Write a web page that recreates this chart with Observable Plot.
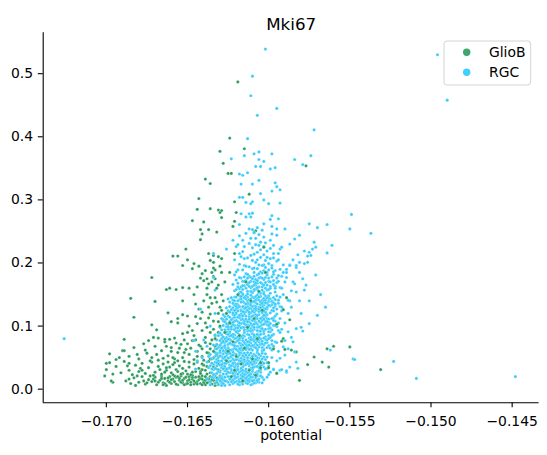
<!DOCTYPE html>
<html>
<head>
<meta charset="utf-8">
<script src="https://cdn.jsdelivr.net/npm/d3@7"></script>
<script src="https://cdn.jsdelivr.net/npm/@observablehq/plot@0.6"></script>
<style>
body{margin:0;background:#fff;}
</style>
</head>
<body>
<div id="chart"></div>
<script>
const title = "Mki67";
const xLabel = "potential";
const categories = ["GlioB", "RGC"];
const xTicks = [-0.170, -0.165, -0.160, -0.155, -0.150, -0.145];
const yTicks = [0.0, 0.1, 0.2, 0.3, 0.4, 0.5];

// GlioB: dense bottom band
const glioBDense = [
[-.1688,.013],[-.1685,.009],[-.1683,.018],[-.1680,.011],[-.1678,.020],[-.1676,.008],[-.1674,.015],[-.1672,.012],[-.1670,.019],[-.1669,.007],[-.1667,.014],[-.1666,.021],[-.1665,.010],[-.1664,.017],[-.1663,.006],[-.1662,.013],[-.1661,.020],[-.1660,.009],[-.1659,.016],[-.1658,.012],[-.1657,.019],[-.1656,.007],[-.1655,.014],[-.1654,.021],[-.1653,.010],[-.1652,.017],[-.1651,.008],[-.1650,.013],[-.1649,.020],[-.1648,.011],[-.1647,.016],[-.1646,.008],[-.1645,.019],[-.1644,.012],[-.1643,.015],[-.1642,.009],[-.1641,.021],[-.1640,.013],[-.1639,.007],[-.1638,.017],[-.1637,.011],[-.1636,.020],[-.1635,.008],[-.1634,.014],[-.1633,.010],[-.1632,.018],[-.1631,.007],[-.1629,.012],
[-.1682,.006],[-.1677,.013],[-.1673,.021],[-.1668,.011],[-.1664,.009],[-.1660,.015],[-.1657,.008],[-.1654,.011],[-.1651,.019],[-.1648,.007],[-.1645,.010],[-.1642,.017],[-.1639,.014],[-.1636,.012],[-.1633,.006],[-.1630,.015],[-.1662,.018],[-.1658,.021],[-.1655,.017],[-.1650,.009],[-.1646,.013],[-.1643,.020],[-.1640,.010],[-.1637,.016],[-.1634,.019],[-.1671,.016],[-.1666,.017],[-.1653,.014],[-.1647,.019],[-.1641,.007],
[-.1686,.016],[-.1681,.021],[-.1675,.010],[-.1670,.013],[-.1665,.007],[-.1661,.011],[-.1656,.020],[-.1652,.007],[-.1649,.015],[-.1644,.008],[-.1641,.016],[-.1638,.010],[-.1635,.015],[-.1632,.011],[-.1630,.021],[-.1659,.023],[-.1653,.025],[-.1647,.022],[-.1642,.028],[-.1639,.020],
[-.1700,.031],[-.1698,.042],[-.1694,.036],[-.1691,.026],[-.1689,.044],[-.1686,.030],[-.1684,.023],[-.1682,.038],[-.1680,.028],[-.1678,.041],[-.1676,.025],[-.1674,.034],[-.1672,.043],[-.1670,.027],[-.1668,.036],[-.1666,.024],[-.1665,.040],[-.1663,.030],[-.1661,.035],[-.1660,.026],[-.1658,.042],[-.1657,.031],[-.1655,.037],[-.1654,.024],[-.1652,.044],[-.1651,.029],[-.1649,.035],[-.1648,.023],[-.1646,.040],[-.1645,.028],[-.1643,.033],[-.1642,.025],[-.1640,.038],[-.1639,.030],[-.1637,.044],[-.1636,.026],[-.1634,.035],[-.1633,.023],[-.1631,.040],[-.1630,.029],[-.1627,.034],
[-.1696,.024],[-.1687,.037],[-.1679,.033],[-.1671,.022],[-.1664,.027],[-.1659,.039],[-.1653,.033],[-.1647,.027],[-.1644,.043],[-.1641,.031],[-.1638,.024],[-.1635,.041],[-.1632,.032],[-.1650,.024],[-.1656,.028],[-.1662,.043],[-.1667,.031],
[-.1698,.056],[-.1694,.047],[-.1690,.061],[-.1686,.052],[-.1683,.066],[-.1680,.048],[-.1677,.072],[-.1675,.057],[-.1672,.050],[-.1670,.068],[-.1668,.046],[-.1666,.061],[-.1664,.075],[-.1662,.053],[-.1660,.066],[-.1658,.048],[-.1656,.058],[-.1654,.071],[-.1653,.050],[-.1651,.063],[-.1649,.055],[-.1647,.077],[-.1646,.047],[-.1644,.060],[-.1642,.068],[-.1641,.052],[-.1639,.074],[-.1637,.057],[-.1636,.064],[-.1634,.049],[-.1632,.070],[-.1630,.058],[-.1628,.076],[-.1626,.062],[-.1623,.054],
[-.1676,.062],[-.1665,.049],[-.1657,.073],[-.1648,.065],[-.1640,.046],[-.1635,.078],[-.1631,.051],[-.1652,.078],
[-.1660,.060],[-.1663,.068],[-.1655,.065],[-.1650,.072],[-.1645,.078],[-.1669,.055],[-.1673,.045],[-.1681,.055],[-.1686,.041],[-.1692,.050],[-.1659,.050],[-.1652,.058],[-.1678,.030],[-.1663,.034],[-.1656,.045],[-.1649,.043],
[-.1700,.041],[-.1696,.011],[-.1701,.021],[-.1697,.013]
];

// GlioB: sparse upper scatter and outliers
const glioBScatter = [
[-.1619,.487],[-.1624,.398],[-.1615,.381],[-.1630,.377],[-.1628,.358],[-.1625,.342],[-.1623,.342],[-.1639,.333],[-.1636,.326],[-.1577,.354],[-.1612,.309],[-.1621,.297],[-.1643,.302],[-.1644,.285],[-.1636,.286],[-.1631,.284],[-.1629,.283],[-.1630,.280],[-.1620,.280],[-.1629,.272],[-.1647,.267],[-.1640,.265],[-.1621,.266],[-.1622,.258],
[-.1642,.253],[-.1641,.246],[-.1637,.253],[-.1642,.237],[-.1632,.249],[-.1609,.248],[-.1608,.251],[-.1651,.222],[-.1659,.211],[-.1656,.211],[-.1650,.205],[-.1653,.196],[-.1647,.191],[-.1646,.199],[-.1636,.204],[-.1634,.201],[-.1639,.188],[-.1635,.185],[-.1633,.189],[-.1631,.210],[-.1629,.207],[-.1637,.215],[-.1634,.212],
[-.1672,.177],[-.1663,.158],[-.1661,.160],[-.1657,.158],[-.1653,.161],[-.1649,.160],[-.1644,.162],[-.1642,.176],[-.1640,.172],[-.1638,.175],[-.1637,.167],[-.1635,.170],[-.1634,.179],
[-.1685,.144],[-.1670,.139],[-.1662,.121],[-.1660,.107],[-.1656,.105],[-.1656,.112],[-.1653,.118],[-.1650,.116],[-.1645,.115],[-.1643,.127],[-.1642,.112],[-.1637,.130],[-.1636,.119],[-.1635,.136],[-.1683,.114],[-.1672,.102],
[-.1689,.079],[-.1689,.061],[-.1674,.077],[-.1671,.082],[-.1668,.081],[-.1664,.079],[-.1661,.079],[-.1658,.081],[-.1653,.088],[-.1650,.090],[-.1647,.093],[-.1644,.104],[-.1641,.093],[-.1638,.098],[-.1636,.090],[-.1669,.094],
[-.1640,.140],[-.1638,.150],[-.1633,.145],[-.1645,.135],[-.1641,.122],[-.1634,.108],[-.1639,.082],[-.1643,.070],[-.1633,.068],[-.1631,.090],[-.1646,.085],[-.1649,.100],[-.1653,.140],[-.1646,.150],[-.1630,.130],[-.1632,.055],
[-.1644,.052],[-.1641,.064],[-.1638,.058],[-.1636,.072],[-.1633,.085],[-.1639,.105],[-.1637,.113],[-.1634,.095],[-.1631,.107],[-.1632,.138],[-.1636,.145],[-.1631,.165],[-.1633,.175],[-.1629,.185],[-.1634,.192],[-.1641,.183],[-.1643,.195],[-.1638,.160],[-.1629,.125],[-.1628,.110],[-.1630,.070],[-.1636,.048],[-.1641,.040],[-.1638,.036],
[-.1560,.068],[-.1564,.064],[-.1572,.051],[-.1576,.039],[-.1563,.035],[-.1567,.043],[-.1550,.067],[-.1531,.031],[-.1581,.014],[-.1583,.059],[-.1590,.063],[-.1591,.080]
];

// GlioB points lying inside the RGC cloud
const glioBCore = [
[-.1628,.140],[-.1626,.120],[-.1624,.105],[-.1627,.090],[-.1622,.075],[-.1625,.060],[-.1620,.052],[-.1617,.040],[-.1612,.030],[-.1608,.022],[-.1605,.034],[-.1610,.048],[-.1615,.065],[-.1618,.085],[-.1613,.098],[-.1609,.112],[-.1604,.125],[-.1611,.140],[-.1606,.155],[-.1614,.170],[-.1602,.185],[-.1600,.042],[-.1597,.064],[-.1595,.025],[-.1630,.100],[-.1633,.080],[-.1631,.120],[-.1629,.150],[-.1632,.160],[-.1627,.170],[-.1624,.185],[-.1630,.195],[-.1591,.126],[-.1595,.103],[-.1592,.076],[-.1586,.062],[-.1600,.034],[-.1605,.042],[-.1621,.030],[-.1626,.045],[-.1634,.060],[-.1623,.020],[-.1616,.013],[-.1619,.150],[-.1607,.080],[-.1587,.110],[-.1589,.145],[-.1603,.225],[-.1621,.215]
];

// RGC: dense core
const rgcCore = [
[-.1636,.012],[-.1633,.021],[-.1631,.008],[-.1630,.027],[-.1628,.015],[-.1627,.006],[-.1626,.024],[-.1625,.011],[-.1624,.019],[-.1623,.028],[-.1622,.009],[-.1621,.017],[-.1620,.025],[-.1619,.013],[-.1618,.007],[-.1617,.022],[-.1616,.016],[-.1615,.029],[-.1614,.010],[-.1613,.020],[-.1612,.026],[-.1611,.014],[-.1610,.008],[-.1609,.023],[-.1608,.018],[-.1606,.011],[-.1605,.027],[-.1603,.015],
[-.1635,.026],[-.1632,.014],[-.1629,.020],[-.1627,.029],[-.1624,.007],[-.1622,.022],[-.1620,.012],[-.1618,.027],[-.1616,.008],[-.1614,.024],[-.1612,.016],[-.1610,.028],[-.1608,.010],[-.1607,.021],[-.1604,.019],
[-.1634,.018],[-.1631,.016],[-.1629,.010],[-.1626,.013],[-.1623,.016],[-.1621,.027],[-.1619,.020],[-.1617,.011],[-.1615,.019],[-.1613,.009],[-.1611,.024],[-.1609,.014],[-.1607,.028],[-.1628,.024],[-.1625,.020],[-.1620,.018],[-.1616,.025],[-.1612,.012],[-.1633,.009],[-.1606,.016],
[-.1634,.023],[-.1630,.013],[-.1627,.019],[-.1624,.026],[-.1621,.011],[-.1618,.016],[-.1615,.023],[-.1613,.014],[-.1610,.019],[-.1607,.012],[-.1629,.006],[-.1622,.014],[-.1617,.029],[-.1611,.007],[-.1626,.029],[-.1619,.024],[-.1614,.017],[-.1608,.026],
[-.1638,.016],[-.1636,.007],[-.1632,.025],[-.1630,.019],[-.1628,.009],[-.1625,.027],[-.1623,.012],[-.1621,.021],[-.1619,.008],[-.1617,.017],[-.1615,.013],[-.1613,.026],[-.1611,.019],[-.1609,.010],[-.1607,.024],[-.1605,.021],[-.1604,.010],[-.1631,.028],[-.1627,.013],[-.1624,.016],[-.1620,.029],[-.1616,.020],[-.1612,.022],[-.1610,.013],[-.1606,.029],[-.1635,.019],[-.1629,.017],[-.1622,.025],[-.1618,.012],[-.1614,.028],
[-.1637,.034],[-.1635,.048],[-.1634,.039],[-.1632,.057],[-.1631,.031],[-.1630,.044],[-.1629,.052],[-.1628,.036],[-.1627,.059],[-.1626,.041],[-.1625,.033],[-.1624,.050],[-.1623,.045],[-.1622,.038],[-.1621,.056],[-.1620,.032],[-.1619,.047],[-.1618,.054],[-.1617,.040],[-.1616,.035],[-.1615,.051],[-.1614,.043],[-.1613,.058],[-.1612,.037],[-.1611,.049],[-.1610,.031],[-.1609,.055],[-.1608,.042],[-.1607,.046],[-.1606,.034],[-.1605,.053],[-.1604,.039],[-.1602,.047],[-.1601,.033],
[-.1636,.055],[-.1633,.043],[-.1631,.050],[-.1629,.034],[-.1627,.047],[-.1625,.056],[-.1623,.031],[-.1621,.042],[-.1619,.036],[-.1617,.057],[-.1615,.038],[-.1613,.046],[-.1611,.033],[-.1609,.041],[-.1607,.058],[-.1605,.044],[-.1603,.051],
[-.1634,.031],[-.1632,.037],[-.1630,.058],[-.1628,.049],[-.1626,.053],[-.1624,.038],[-.1622,.048],[-.1620,.055],[-.1618,.041],[-.1616,.046],[-.1614,.032],[-.1612,.054],[-.1610,.045],[-.1608,.036],[-.1606,.049],[-.1603,.035],
[-.1626,.032],[-.1622,.059],[-.1619,.051],[-.1615,.044],[-.1612,.040],[-.1609,.048],[-.1624,.044],[-.1617,.033],[-.1628,.041],[-.1620,.039],
[-.1635,.041],[-.1633,.052],[-.1630,.038],[-.1628,.056],[-.1625,.043],[-.1623,.052],[-.1621,.035],[-.1618,.045],[-.1616,.053],[-.1614,.039],[-.1611,.057],[-.1609,.035],[-.1607,.050],[-.1604,.043],[-.1602,.056],[-.1632,.047],[-.1627,.036],[-.1622,.041],[-.1617,.049],[-.1613,.050],[-.1610,.039],[-.1606,.040],[-.1601,.042],[-.1629,.045],[-.1624,.057],[-.1619,.031],[-.1615,.057],[-.1612,.044],[-.1608,.053],[-.1605,.031],
[-.1638,.043],[-.1636,.037],[-.1634,.050],[-.1633,.033],[-.1631,.045],[-.1630,.053],[-.1628,.032],[-.1627,.041],[-.1625,.049],[-.1624,.034],[-.1622,.054],[-.1621,.046],[-.1619,.040],[-.1618,.058],[-.1616,.030],[-.1615,.047],[-.1613,.041],[-.1612,.032],[-.1610,.052],[-.1609,.044],[-.1607,.036],[-.1606,.055],[-.1604,.048],[-.1603,.041],[-.1601,.051],[-.1600,.037],
[-.1637,.052],[-.1635,.032],[-.1632,.042],[-.1629,.039],[-.1626,.057],[-.1623,.037],[-.1620,.047],[-.1617,.044],[-.1614,.054],[-.1611,.042],[-.1608,.047],[-.1605,.038],[-.1602,.032],[-.1633,.058],[-.1627,.051],[-.1621,.031],[-.1616,.041],[-.1610,.034],[-.1604,.057],
[-.1633,.064],[-.1632,.078],[-.1630,.069],[-.1629,.086],[-.1628,.061],[-.1627,.074],[-.1626,.082],[-.1625,.066],[-.1624,.089],[-.1623,.071],[-.1622,.063],[-.1621,.080],[-.1620,.075],[-.1619,.068],[-.1618,.086],[-.1617,.062],[-.1616,.077],[-.1615,.084],[-.1614,.070],[-.1613,.065],[-.1612,.081],[-.1611,.073],[-.1610,.088],[-.1609,.067],[-.1608,.079],[-.1607,.061],[-.1606,.085],[-.1605,.072],[-.1604,.076],[-.1603,.064],[-.1602,.083],[-.1600,.069],[-.1598,.077],[-.1597,.087],
[-.1631,.085],[-.1629,.073],[-.1627,.080],[-.1625,.064],[-.1623,.077],[-.1621,.086],[-.1619,.061],[-.1617,.072],[-.1615,.066],[-.1613,.087],[-.1611,.068],[-.1609,.076],[-.1607,.063],[-.1605,.071],[-.1603,.088],[-.1601,.074],
[-.1630,.061],[-.1628,.067],[-.1626,.088],[-.1624,.079],[-.1622,.083],[-.1620,.068],[-.1618,.078],[-.1616,.085],[-.1614,.071],[-.1612,.076],[-.1610,.062],[-.1608,.084],[-.1606,.075],[-.1604,.066],[-.1602,.079],[-.1599,.065],
[-.1623,.062],[-.1619,.089],[-.1616,.081],[-.1612,.074],[-.1609,.070],[-.1606,.078],[-.1621,.074],[-.1614,.063],[-.1625,.071],[-.1617,.069],[-.1611,.082],
[-.1632,.071],[-.1629,.080],[-.1627,.066],[-.1624,.084],[-.1622,.070],[-.1620,.081],[-.1617,.065],[-.1615,.074],[-.1612,.086],[-.1610,.069],[-.1608,.073],[-.1605,.080],[-.1603,.070],[-.1600,.085],[-.1598,.071],[-.1628,.075],[-.1625,.087],[-.1621,.065],[-.1618,.073],[-.1614,.078],[-.1611,.064],[-.1607,.087],[-.1604,.061],[-.1601,.078],[-.1626,.062],[-.1619,.083],[-.1613,.069],[-.1609,.083],[-.1616,.062],[-.1606,.067],
[-.1634,.070],[-.1633,.086],[-.1631,.066],[-.1630,.077],[-.1628,.083],[-.1627,.069],[-.1625,.079],[-.1624,.062],[-.1622,.087],[-.1621,.069],[-.1619,.077],[-.1618,.064],[-.1616,.070],[-.1615,.089],[-.1613,.075],[-.1612,.063],[-.1610,.079],[-.1609,.086],[-.1607,.070],[-.1606,.082],[-.1604,.072],[-.1603,.081],[-.1601,.066],[-.1600,.080],[-.1598,.062],[-.1596,.075],
[-.1632,.064],[-.1629,.065],[-.1626,.076],[-.1623,.085],[-.1620,.063],[-.1617,.083],[-.1614,.066],[-.1611,.078],[-.1608,.066],[-.1605,.087],[-.1602,.073],[-.1599,.082],[-.1630,.089],[-.1624,.073],[-.1618,.080],[-.1612,.070],[-.1607,.077],[-.1603,.062],[-.1597,.068],
[-.1629,.094],[-.1628,.108],[-.1626,.099],[-.1625,.116],[-.1624,.091],[-.1623,.104],[-.1622,.112],[-.1621,.096],[-.1620,.119],[-.1619,.101],[-.1618,.093],[-.1617,.110],[-.1616,.105],[-.1615,.098],[-.1614,.116],[-.1613,.092],[-.1612,.107],[-.1611,.114],[-.1610,.100],[-.1609,.095],[-.1608,.111],[-.1607,.103],[-.1606,.118],[-.1605,.097],[-.1604,.109],[-.1603,.091],[-.1602,.115],[-.1601,.102],[-.1600,.106],[-.1598,.094],[-.1597,.113],[-.1595,.099],
[-.1627,.115],[-.1625,.103],[-.1623,.110],[-.1621,.094],[-.1619,.107],[-.1617,.116],[-.1615,.091],[-.1613,.102],[-.1611,.096],[-.1609,.117],[-.1607,.098],[-.1605,.106],[-.1603,.093],[-.1601,.112],[-.1599,.104],
[-.1626,.091],[-.1624,.097],[-.1622,.118],[-.1620,.109],[-.1618,.113],[-.1616,.098],[-.1614,.108],[-.1612,.115],[-.1610,.101],[-.1608,.106],[-.1606,.092],[-.1604,.114],[-.1602,.105],[-.1600,.096],[-.1596,.108],
[-.1619,.092],[-.1615,.119],[-.1612,.111],[-.1608,.104],[-.1605,.100],[-.1602,.108],[-.1617,.104],[-.1610,.093],[-.1621,.101],[-.1613,.099],[-.1607,.112],
[-.1628,.101],[-.1626,.111],[-.1623,.095],[-.1621,.114],[-.1618,.100],[-.1616,.111],[-.1613,.095],[-.1611,.104],[-.1609,.109],[-.1606,.099],[-.1604,.102],[-.1601,.118],[-.1599,.097],[-.1597,.109],[-.1624,.107],[-.1620,.097],[-.1617,.119],[-.1614,.102],[-.1610,.116],[-.1607,.093],[-.1603,.111],[-.1600,.101],[-.1622,.102],[-.1615,.108],[-.1612,.093],[-.1608,.118],[-.1605,.112],[-.1619,.114],[-.1602,.095],[-.1625,.095],
[-.1630,.098],[-.1629,.112],[-.1627,.094],[-.1626,.104],[-.1624,.114],[-.1623,.099],[-.1621,.108],[-.1620,.091],[-.1618,.117],[-.1617,.097],[-.1615,.104],[-.1614,.111],[-.1612,.100],[-.1611,.092],[-.1609,.103],[-.1608,.114],[-.1606,.108],[-.1605,.092],[-.1603,.103],[-.1602,.118],[-.1600,.111],[-.1599,.091],[-.1597,.101],[-.1596,.116],[-.1594,.105],[-.1594,.093],
[-.1628,.118],[-.1625,.099],[-.1622,.106],[-.1619,.097],[-.1616,.116],[-.1613,.107],[-.1610,.109],[-.1607,.117],[-.1604,.096],[-.1601,.107],[-.1598,.112],[-.1627,.107],[-.1621,.118],[-.1615,.094],[-.1609,.098],[-.1603,.117],[-.1600,.091],[-.1618,.105],[-.1612,.119],
[-.1625,.124],[-.1624,.138],[-.1622,.129],[-.1621,.146],[-.1620,.121],[-.1619,.134],[-.1618,.142],[-.1617,.126],[-.1616,.149],[-.1615,.131],[-.1614,.123],[-.1613,.140],[-.1612,.135],[-.1611,.128],[-.1610,.146],[-.1609,.122],[-.1608,.137],[-.1607,.144],[-.1606,.130],[-.1605,.125],[-.1604,.141],[-.1603,.133],[-.1602,.148],[-.1601,.127],[-.1600,.139],[-.1599,.121],[-.1597,.145],[-.1596,.132],[-.1594,.136],[-.1592,.124],
[-.1623,.145],[-.1621,.133],[-.1619,.140],[-.1617,.124],[-.1615,.137],[-.1613,.146],[-.1611,.121],[-.1609,.132],[-.1607,.126],[-.1605,.147],[-.1603,.128],[-.1601,.136],[-.1599,.143],[-.1597,.129],
[-.1622,.121],[-.1620,.127],[-.1618,.148],[-.1616,.139],[-.1614,.143],[-.1612,.128],[-.1610,.138],[-.1608,.125],[-.1606,.141],[-.1604,.131],[-.1602,.122],[-.1600,.144],[-.1598,.134],
[-.1615,.122],[-.1611,.149],[-.1608,.141],[-.1605,.134],[-.1603,.139],[-.1613,.131],[-.1609,.145],[-.1606,.123],
[-.1624,.131],[-.1622,.141],[-.1620,.135],[-.1617,.143],[-.1615,.128],[-.1613,.136],[-.1610,.131],[-.1608,.147],[-.1606,.127],[-.1603,.144],[-.1601,.130],[-.1598,.139],[-.1595,.127],[-.1619,.124],[-.1616,.131],[-.1612,.142],[-.1609,.127],[-.1607,.135],[-.1604,.121],[-.1600,.148],[-.1597,.137],[-.1621,.125],[-.1614,.148],[-.1611,.137],[-.1605,.138],[-.1602,.141],
[-.1626,.129],[-.1625,.143],[-.1623,.126],[-.1622,.136],[-.1620,.146],[-.1619,.129],[-.1617,.138],[-.1616,.123],[-.1614,.135],[-.1613,.125],[-.1611,.143],[-.1610,.124],[-.1608,.131],[-.1607,.149],[-.1605,.129],[-.1604,.136],[-.1602,.127],[-.1601,.145],[-.1599,.132],[-.1598,.125],[-.1596,.142],[-.1595,.148],[-.1593,.131],
[-.1624,.122],[-.1621,.140],[-.1618,.131],[-.1615,.145],[-.1612,.122],[-.1609,.139],[-.1606,.146],[-.1603,.124],[-.1600,.133],[-.1597,.124],[-.1594,.141],[-.1620,.131],[-.1614,.129],[-.1608,.128],[-.1602,.137],[-.1617,.147],[-.1611,.133],
[-.1621,.156],[-.1619,.168],[-.1618,.159],[-.1617,.176],[-.1616,.151],[-.1615,.164],[-.1614,.172],[-.1613,.155],[-.1612,.179],[-.1611,.161],[-.1610,.153],[-.1609,.170],[-.1608,.165],[-.1607,.158],[-.1606,.176],[-.1605,.152],[-.1604,.167],[-.1603,.174],[-.1602,.160],[-.1601,.157],[-.1600,.171],[-.1599,.163],[-.1598,.178],[-.1596,.154],[-.1595,.169],[-.1593,.161],
[-.1620,.173],[-.1617,.162],[-.1615,.178],[-.1613,.166],[-.1611,.171],[-.1609,.156],[-.1607,.168],[-.1605,.177],[-.1603,.154],[-.1601,.165],[-.1599,.152],[-.1597,.172],
[-.1616,.158],[-.1612,.169],[-.1608,.174],[-.1606,.162],[-.1604,.157],[-.1610,.163],[-.1602,.169],
[-.1619,.162],[-.1616,.171],[-.1614,.160],[-.1611,.177],[-.1609,.165],[-.1607,.172],[-.1604,.162],[-.1602,.177],[-.1600,.158],[-.1597,.166],[-.1595,.176],[-.1613,.151],[-.1608,.159],[-.1605,.169],[-.1610,.175],[-.1603,.151],[-.1599,.170],[-.1618,.153],
[-.1622,.166],[-.1620,.158],[-.1618,.177],[-.1617,.154],[-.1615,.171],[-.1614,.183],[-.1612,.163],[-.1611,.155],[-.1609,.179],[-.1608,.168],[-.1606,.153],[-.1605,.186],[-.1603,.165],[-.1602,.193],[-.1600,.176],[-.1599,.160],[-.1597,.182],[-.1596,.163],[-.1594,.171],[-.1592,.179],
[-.1619,.189],[-.1616,.164],[-.1613,.176],[-.1610,.191],[-.1607,.181],[-.1604,.176],[-.1601,.185],[-.1598,.196],[-.1621,.181],[-.1615,.196],[-.1609,.158],[-.1603,.197],[-.1600,.189],[-.1596,.188],[-.1607,.161],
[-.1620,.186],[-.1618,.198],[-.1616,.189],[-.1615,.207],[-.1613,.182],[-.1612,.194],[-.1611,.212],[-.1609,.185],[-.1608,.201],[-.1607,.191],[-.1606,.183],[-.1605,.209],[-.1604,.196],[-.1603,.188],[-.1602,.204],[-.1601,.181],[-.1600,.199],[-.1598,.192],[-.1597,.186],[-.1595,.203],[-.1593,.190],[-.1591,.197],
[-.1617,.210],[-.1614,.195],[-.1610,.204],[-.1606,.197],[-.1603,.213],[-.1599,.207],[-.1609,.192],[-.1604,.184],
[-.1621,.205],[-.1618,.215],[-.1615,.226],[-.1613,.208],[-.1611,.239],[-.1609,.214],[-.1607,.205],[-.1605,.221],[-.1603,.241],[-.1601,.209],[-.1599,.223],[-.1597,.208],[-.1594,.215],[-.1612,.254],[-.1606,.245],[-.1616,.236],[-.1620,.226],[-.1602,.232],[-.1598,.246],[-.1608,.229],
[-.1626,.222],[-.1622,.236],[-.1619,.229],[-.1616,.218],[-.1614,.247],[-.1612,.231],[-.1610,.224],[-.1608,.239],[-.1607,.217],[-.1605,.233],[-.1604,.252],[-.1603,.226],[-.1601,.219],[-.1599,.236],[-.1597,.228],[-.1595,.244],[-.1593,.222],[-.1618,.243],[-.1609,.249],[-.1606,.228]
];

// RGC: sparse points around the core and outliers
const rgcScatter = [
[-.1602,.539],[-.1610,.496],[-.1611,.465],[-.1595,.445],[-.1607,.434],[-.1572,.411],[-.1613,.397],[-.1496,.530],[-.1490,.458],[-.1726,.080],
[-.1623,.365],[-.1615,.370],[-.1609,.373],[-.1606,.376],[-.1598,.373],[-.1606,.364],[-.1603,.361],[-.1584,.364],[-.1574,.370],[-.1579,.356],[-.1608,.353],[-.1605,.353],[-.1599,.349],[-.1596,.351],
[-.1618,.341],[-.1616,.339],[-.1613,.343],[-.1617,.325],[-.1610,.325],[-.1606,.331],[-.1596,.327],[-.1595,.321],[-.1593,.316],[-.1598,.314],
[-.1618,.304],[-.1616,.304],[-.1614,.296],[-.1611,.294],[-.1610,.297],[-.1605,.310],[-.1603,.300],[-.1600,.294],[-.1593,.295],
[-.1617,.278],[-.1614,.273],[-.1612,.278],[-.1610,.279],[-.1611,.273],[-.1598,.275],[-.1594,.270],[-.1599,.269],
[-.1618,.261],[-.1603,.262],[-.1598,.258],[-.1607,.256],[-.1595,.254],[-.1590,.254],[-.1610,.253],[-.1575,.262],[-.1570,.256],[-.1564,.261],[-.1550,.254],[-.1549,.277],[-.1537,.247],
[-.1581,.244],[-.1584,.238],[-.1572,.233],[-.1573,.222],[-.1571,.225],[-.1575,.217],[-.1578,.199],[-.1576,.201],[-.1574,.212],[-.1561,.228],[-.1564,.216],[-.1578,.219],[-.1576,.211],[-.1582,.213],[-.1581,.201],[-.1583,.193],[-.1587,.197],[-.1589,.185],[-.1585,.170],[-.1583,.154],[-.1581,.140],[-.1587,.140],[-.1571,.181],[-.1578,.157],
[-.1583,.196],[-.1587,.196],[-.1591,.185],[-.1589,.177],[-.1584,.167],[-.1586,.156],[-.1593,.146],[-.1588,.141],[-.1592,.130],[-.1595,.119],[-.1596,.101],[-.1593,.090],[-.1588,.091],[-.1583,.096],[-.1580,.098],[-.1570,.117],[-.1565,.130],[-.1575,.104],[-.1579,.092],
[-.1590,.077],[-.1595,.074],[-.1591,.067],[-.1588,.064],[-.1584,.059],[-.1590,.054],[-.1583,.043],[-.1587,.035],[-.1593,.030],[-.1597,.032],[-.1599,.027],[-.1589,.027],[-.1593,.049],[-.1595,.045],[-.1548,.048],[-.1607,.014],[-.1601,.019],
[-.1562,.062],[-.1547,.047],[-.1523,.044],[-.1509,.017],[-.1448,.020],[-.1582,.033],[-.1589,.029],[-.1592,.031],[-.1595,.026],[-.1600,.023],[-.1597,.031],
[-.1592,.160],[-.1590,.170],[-.1594,.180],[-.1588,.120],[-.1590,.105],[-.1586,.130],[-.1593,.112],[-.1596,.135],[-.1591,.150],[-.1596,.160],[-.1589,.190],[-.1585,.205],[-.1594,.205],[-.1597,.215],[-.1592,.225],[-.1587,.230],[-.1581,.185],[-.1579,.175],[-.1577,.165],[-.1586,.082],[-.1598,.085],[-.1592,.095],[-.1585,.075],[-.1594,.060],[-.1598,.050],[-.1580,.120],[-.1575,.140],[-.1568,.150],
[-.1634,.215],[-.1634,.177],[-.1633,.157],[-.1642,.127],[-.1640,.078],[-.1646,.077],[-.1645,.060],[-.1644,.045],[-.1645,.032],[-.1638,.068],[-.1641,.050],[-.1636,.100],[-.1633,.120]
];

const palette = ["#2b9b5c", "#36cbfc"];
const legendPalette = ["#3ea56e", "#41cffd"];

const rows = (arr, cluster) => arr.map(([x, y]) => ({potential: x, value: y, cluster}));
const xDomain = [-0.17389, -0.14334];
const yDomain = [-0.0216, 0.5648];
const fmtX = d3.format(".3f");
const fmtY = d3.format(".1f");
const dotOpts = {x: "potential", y: "value", fill: "cluster", r: 1.6, stroke: "white", strokeWidth: 0.25};

const plot = Plot.plot({
  width: 547,
  height: 455,
  marginLeft: 42.7,
  marginRight: 8.4,
  marginTop: 32.3,
  marginBottom: 52.7,
  style: {fontFamily: "DejaVu Sans", fontSize: "13.9px", color: "black", background: "white"},
  x: {domain: xDomain},
  y: {domain: yDomain},
  color: {domain: categories, range: palette},
  marks: [
    Plot.dot(rows(glioBDense, "GlioB"), dotOpts),
    Plot.dot(rows(glioBScatter, "GlioB"), dotOpts),
    Plot.dot(rows(rgcCore, "RGC"), dotOpts),
    Plot.dot(rows(rgcScatter, "RGC"), dotOpts),
    Plot.dot(rows(glioBCore, "GlioB"), dotOpts),
    Plot.axisX({ticks: xTicks, tickFormat: fmtX, tickSize: 4.9, tickPadding: 8.5, strokeWidth: 1.1, fontSize: 13.9, label: null}),
    Plot.axisY({ticks: yTicks, tickFormat: fmtY, tickSize: 4.9, tickPadding: 5.2, strokeWidth: 1.1, fontSize: 13.9, label: null}),
    Plot.ruleX([xDomain[0]], {stroke: "black", strokeWidth: 1.1}),
    Plot.ruleY([yDomain[0]], {stroke: "black", strokeWidth: 1.1}),
    Plot.text([title], {frameAnchor: "top", dy: -14.3, fontSize: 16.7, fill: "black"}),
    Plot.text([xLabel], {frameAnchor: "bottom", dy: 37.5, fontSize: 13.9, fill: "black"})
  ]
});

// legend box (matplotlib style)
const svg = d3.select(plot);
const lg = svg.append("g").attr("font-family", "DejaVu Sans").attr("font-size", "13.9px").attr("text-anchor", "start");
lg.append("rect").attr("x", 444).attr("y", 41).attr("width", 86.7).attr("height", 44)
  .attr("rx", 3).attr("fill", "white").attr("fill-opacity", 0.8).attr("stroke", "#d4d4d4").attr("stroke-width", 1);
categories.forEach((c, i) => {
  const cy = 52.3 + i * 20;
  lg.append("circle").attr("cx", 466.7).attr("cy", cy).attr("r", 3.7).attr("fill", legendPalette[i]);
  lg.append("text").attr("x", 489).attr("y", cy).attr("dy", "0.35em").attr("text-anchor", "start").attr("fill", "black").text(c);
});

document.getElementById("chart").appendChild(plot);
</script>
</body>
</html>
